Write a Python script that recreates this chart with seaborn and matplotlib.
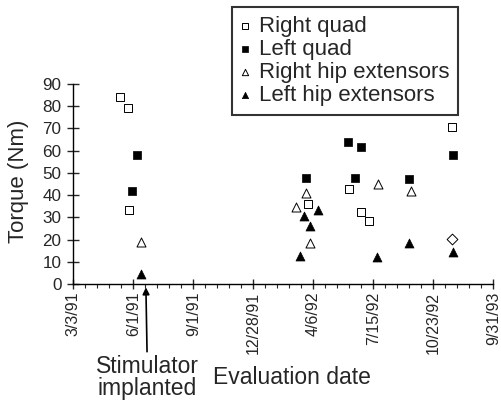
import matplotlib
matplotlib.use("Agg")
import matplotlib.pyplot as plt
from matplotlib.ticker import MultipleLocator, FixedLocator
import seaborn as sns
import pandas as pd

# ---- data (x = position on the evaluation-date axis, in tick intervals) ----
date_labels = ["3/3/91", "6/1/91", "9/1/91", "12/28/91", "4/6/92", "7/15/92", "10/23/92", "9/31/93"]

right_quad_x = [0.78, 0.91, 0.93, 3.92, 4.60, 4.79, 4.93, 6.32]
right_quad_y = [84, 79, 33.5, 36, 42.6, 32.5, 28.5, 70.5]

left_quad_x = [0.98, 1.06, 3.88, 4.58, 4.70, 4.79, 5.60, 6.33]
left_quad_y = [42, 58, 47.6, 63.8, 47.6, 61.5, 47.1, 58.2]

right_hip_x = [1.12, 3.71, 3.88, 3.95, 5.08, 5.63]
right_hip_y = [19, 34.8, 41, 18.6, 45, 41.9]

left_hip_x = [1.12, 3.78, 3.85, 3.95, 4.08, 5.06, 5.60, 6.33]
left_hip_y = [4.4, 12.6, 30.8, 26.3, 33.3, 12, 18.3, 14.3]

extra_x = [6.31]
extra_y = [20.2]

implant_x = 1.21

sns.set_style("ticks")
plt.rcParams['font.family'] = ['Liberation Sans', 'DejaVu Sans']

fig = plt.figure(figsize=(5.01, 4.01), dpi=100)
ax = fig.add_axes([73.3/501, 1-284/401, 420/501, 200/401])

open_kw = dict(facecolor="white", edgecolor="black", linewidth=0.7)
fill_kw = dict(color="black", edgecolor="black", linewidth=0.5)

sns.scatterplot(x=right_quad_x, y=right_quad_y, marker="s", s=34, ax=ax,
                label="Right quad", clip_on=False, zorder=3, **open_kw)
sns.scatterplot(x=left_quad_x, y=left_quad_y, marker="s", s=40, ax=ax,
                label="Left quad", clip_on=False, zorder=3, **fill_kw)
sns.scatterplot(x=right_hip_x, y=right_hip_y, marker="^", s=42, ax=ax,
                label="Right hip extensors", clip_on=False, zorder=3, **open_kw)
sns.scatterplot(x=left_hip_x, y=left_hip_y, marker="^", s=42, ax=ax,
                label="Left hip extensors", clip_on=False, zorder=3, **fill_kw)
sns.scatterplot(x=extra_x, y=extra_y, marker="D", s=30, ax=ax, legend=False,
                clip_on=False, zorder=3, **open_kw)

ax.set_xlim(0, 7)
ax.set_ylim(0, 90)
ax.xaxis.set_major_locator(FixedLocator(list(range(len(date_labels)))))
ax.set_xticklabels(date_labels, rotation=90, fontsize=11.5)
ax.xaxis.set_minor_locator(MultipleLocator(0.2))
ax.yaxis.set_major_locator(MultipleLocator(10))
ax.tick_params(axis="y", labelsize=12.3, direction="inout", length=8, width=1, pad=4.5)
ax.tick_params(axis="x", which="major", direction="inout", length=7, width=1, pad=2)
ax.tick_params(axis="x", which="minor", direction="out", length=3, width=0.8)
for side in ["top", "right"]:
    ax.spines[side].set_visible(False)
for side in ["left", "bottom"]:
    ax.spines[side].set_linewidth(1)
    ax.spines[side].set_color("black")

ax.set_ylabel("Torque (Nm)", fontsize=16)
ax.yaxis.label.set_verticalalignment("center")
ax.yaxis.set_label_coords((18 - 73.3) / 420, (284 - 181) / 200)
ax.set_xlabel("")
fig.text(291.5/501, 1-377/401, "Evaluation date", fontsize=16.5, ha="center", va="center")

ax.annotate("Stimulator\nimplanted", xy=(implant_x, -1.5), xycoords="data",
            xytext=(147.5/501, 1-355/401), textcoords="figure fraction",
            ha="center", va="top", fontsize=16.5, linespacing=0.92,
            arrowprops=dict(arrowstyle="-|>", color="black", lw=1.2,
                            mutation_scale=10, shrinkA=0, shrinkB=0),
            annotation_clip=False)

leg = ax.legend(loc="upper left", bbox_to_anchor=(231.7/501, 1-6.7/401),
                bbox_transform=fig.transFigure, borderaxespad=0, frameon=True,
                fancybox=False, fontsize=16, handletextpad=0.42,
                handlelength=0.4, labelspacing=0.1, borderpad=0.4,
                markerscale=0.7)
leg.get_frame().set_edgecolor("black")
leg.get_frame().set_linewidth(1.5)

fig.savefig("out.png", dpi=100)
